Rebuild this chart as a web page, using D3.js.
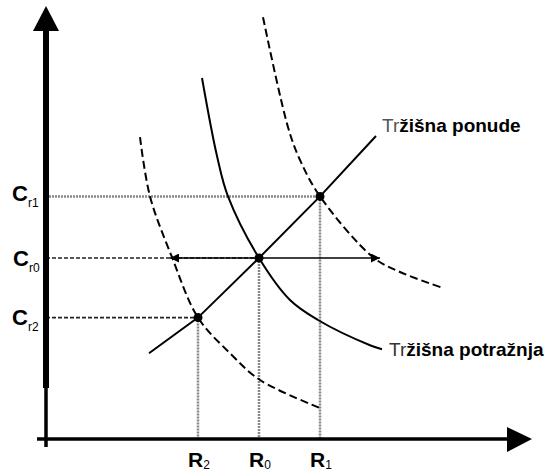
<!DOCTYPE html>
<html>
<head>
<meta charset="utf-8">
<script src="https://cdn.jsdelivr.net/npm/d3@7"></script>
<style>
  body { margin: 0; background: #fff; }
  text { font-family: "Liberation Sans", Arial, sans-serif; }
</style>
</head>
<body>
<div id="chart"></div>
<script>
// quantities (R) and prices (C) of the three equilibria
var rLabels = ["2", "0", "1"];
var rValues = [30.4, 42.6, 54.8];
var cLabels = ["r2", "r0", "r1"];
var cValues = [30.1, 45, 60.4];

// market supply (broken line)
var supply = [[20.6, 21.2], [30.4, 30.1], [42.6, 45], [54.8, 60.4], [66, 75.5]];

// market demand, solid, and the two shifted demand curves, dashed
var demand = [[31.2, 90], [34.2, 70.5], [36.4, 60.4], [42.6, 45], [48.8, 34.5], [54.4, 29.5], [64.8, 23.2], [67.2, 22.2]];
var demandUp = [[43.4, 105.2], [48.4, 77.7], [50.8, 69.5], [54.8, 60.4], [65.4, 45.2], [70.8, 41.5], [79.4, 37.5]];
var demandDown = [[18.8, 75.2], [20.8, 60.4], [25.2, 45.2], [30.4, 30.1], [36.8, 21.2], [42.8, 14.5], [54.8, 7.5]];

var W = 551, H = 475;
var svg = d3.select("#chart").append("svg").attr("width", W).attr("height", H);

var x = d3.scaleLinear().domain([0, 100]).range([46, 546]);
var y = d3.scaleLinear().domain([0, 100]).range([438, 38]);

var line = d3.line().x(function(d){ return x(d[0]); }).y(function(d){ return y(d[1]); });
var curve = d3.line().curve(d3.curveCatmullRom.alpha(0.5))
  .x(function(d){ return x(d[0]); }).y(function(d){ return y(d[1]); });

// guide lines
var gGuide = svg.append("g");
rValues.forEach(function(r, i){
  gGuide.append("line")
    .attr("x1", x(r)).attr("x2", x(r))
    .attr("y1", y(cValues[i])).attr("y2", y(0))
    .attr("stroke", "#888").attr("stroke-width", 2.5).attr("stroke-dasharray", "2,1");
  gGuide.append("line")
    .attr("x1", x(0)).attr("x2", x(r))
    .attr("y1", y(cValues[i])).attr("y2", y(cValues[i]))
    .attr("stroke", i == 2 ? "#888" : "#222")
    .attr("stroke-width", i == 2 ? 2.5 : 1.6)
    .attr("stroke-dasharray", i == 2 ? "2,1" : "4,2");
});

// double arrow along the Cr0 price
var defs = svg.append("defs");
defs.append("marker").attr("id", "ah").attr("viewBox", "0 0 10 10")
  .attr("refX", 10).attr("refY", 5).attr("markerWidth", 11).attr("markerHeight", 9)
  .attr("markerUnits", "userSpaceOnUse").attr("orient", "auto-start-reverse")
  .append("path").attr("d", "M0,0 L10,5 L0,10 z").attr("fill", "#000");

svg.append("line")
  .attr("x1", x(24.8)).attr("x2", x(66.8))
  .attr("y1", y(cValues[1])).attr("y2", y(cValues[1]))
  .attr("stroke", "#000").attr("stroke-width", 1.6)
  .attr("marker-start", "url(#ah)").attr("marker-end", "url(#ah)");

// curves
svg.append("path").attr("d", curve(demandDown)).attr("fill", "none")
  .attr("stroke", "#000").attr("stroke-width", 2).attr("stroke-dasharray", "8,4");
svg.append("path").attr("d", curve(demandUp)).attr("fill", "none")
  .attr("stroke", "#000").attr("stroke-width", 2).attr("stroke-dasharray", "8,4");
svg.append("path").attr("d", curve(demand)).attr("fill", "none")
  .attr("stroke", "#000").attr("stroke-width", 2);
svg.append("path").attr("d", line(supply)).attr("fill", "none")
  .attr("stroke", "#000").attr("stroke-width", 2);

// equilibrium points
svg.selectAll(".pt").data(rValues).enter().append("circle").attr("class", "pt")
  .attr("cx", function(d){ return x(d); })
  .attr("cy", function(d, i){ return y(cValues[i]); })
  .attr("r", 4.5).attr("fill", "#000");

// axes
svg.append("line").attr("x1", 46).attr("x2", 46).attr("y1", 28).attr("y2", 388)
  .attr("stroke", "#000").attr("stroke-width", 6);
svg.append("line").attr("x1", 46).attr("x2", 46).attr("y1", 388).attr("y2", 447)
  .attr("stroke", "#000").attr("stroke-width", 3.5);
svg.append("path").attr("d", "M46,6 L59,31 L33,31 z").attr("fill", "#000");
svg.append("line").attr("x1", 37).attr("x2", 512).attr("y1", 439).attr("y2", 439)
  .attr("stroke", "#000").attr("stroke-width", 3.5);
svg.append("path").attr("d", "M532,439 L507,427 L507,452 z").attr("fill", "#000");

// price labels
var cOff = [[12, 7, 18, 12], [13, 8, 19, 15], [12, 5, 17, 12]];
cValues.forEach(function(c, i){
  var t = svg.append("text").attr("x", cOff[i][0]).attr("y", y(c) + cOff[i][1])
    .attr("font-size", 22).attr("font-weight", "bold").attr("fill", "#000");
  t.append("tspan").text("C");
  t.append("tspan").attr("font-size", 12).attr("font-weight", "normal").attr("dy", 6).text(cLabels[i]);
});

// quantity labels
rValues.forEach(function(r, i){
  var t = svg.append("text").attr("x", x(r) - 10).attr("y", 467)
    .attr("font-size", 21).attr("font-weight", "bold").attr("fill", "#000");
  t.append("tspan").text("R");
  t.append("tspan").attr("font-size", 12).attr("font-weight", "normal").attr("dy", 2).text(rLabels[i]);
});

// curve names
var s = svg.append("text").attr("x", 382).attr("y", 132).attr("font-size", 19).attr("fill", "#000");
s.append("tspan").attr("fill", "#555").text("Tr");
s.append("tspan").attr("font-weight", "bold").text("žišna ponude");
var p = svg.append("text").attr("x", 389).attr("y", 356).attr("font-size", 19).attr("fill", "#000");
p.append("tspan").attr("fill", "#333").text("Tr");
p.append("tspan").attr("font-weight", "bold").text("žišna potražnja");
</script>
</body>
</html>
